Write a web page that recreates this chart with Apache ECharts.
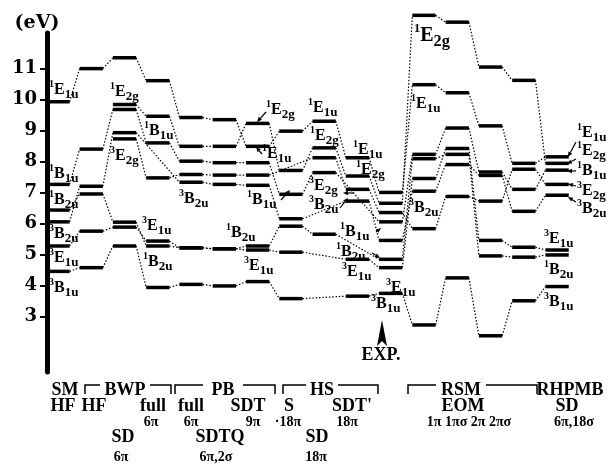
<!DOCTYPE html>
<html><head><meta charset="utf-8">
<script src="https://cdn.jsdelivr.net/npm/echarts@6/dist/echarts.min.js"></script>
<style>html,body{margin:0;padding:0;background:#fff}#c{width:612px;height:475px}</style>
</head><body><div id="c"></div>
<script>
// columns (methods), left to right
const methods = ['SM HF','BWP HF','BWP SD 6π','BWP full 6π','PB full 6π','PB SDTQ 6π,2σ','PB SDT 9π','HS S 18π','HS SD 18π',"HS SDT' 18π",'EXP','RSM EOM 1π','RSM EOM 1πσ','RSM EOM 2π','RSM EOM 2πσ','RHPMB SD 6π,18σ'];
// excitation energies (eV) per state, one value per column (null = not given)
const s1E1u = [9.93, 11.0, 11.35, 10.61, 9.42, 9.35, 8.49, 8.98, 9.3, 8.12, 7.0, 10.48, 10.22, 9.15, 7.94, 8.15];
const s1E2g = [null, null, 9.84, 9.46, 8.49, 8.49, 9.23, 7.71, 8.44, 7.53, 6.65, 12.72, 12.5, 11.05, 10.62, 7.94];
const s1B1u = [7.26, 8.4, 9.68, 8.6, 8.01, 7.96, 7.96, 6.94, 7.64, null, 6.05, 8.23, 9.08, 7.66, 7.1, 7.72];
const s3E2g = [null, null, 8.73, 7.47, 7.58, 7.56, 7.56, null, 8.12, 7.1, 6.35, 5.83, 6.87, 6.72, 7.75, 7.26];
const s3B2u = [6.05, 7.2, 8.93, null, 7.33, 7.26, 7.23, 6.15, null, 6.72, 5.45, 7.04, 7.9, 7.55, 6.39, 6.91];
const s1B2u = [6.43, 6.95, 6.04, 5.27, 5.21, 5.18, 5.27, 5.91, 5.65, null, 4.84, 8.09, 8.23, 4.95, 4.91, 4.98];
const s3E1u = [5.27, 5.75, 5.88, 5.43, 5.21, 5.18, 5.14, 5.07, null, 4.84, 4.57, 7.45, 8.42, 5.45, 5.23, 5.14];
const s3B1u = [4.45, 4.57, 5.27, 3.93, 4.03, 3.98, 4.12, 3.57, null, 3.65, 3.74, 2.72, 4.24, 2.37, 3.5, 3.96];
const yTicks = [3, 4, 5, 6, 7, 8, 9, 10, 11];

const states = [s1E1u, s1E2g, s1B1u, s3E2g, s3B2u, s1B2u, s3E1u, s3B1u];
const HW = 0.35; // half width of a level bar (column units)

const levelData = [];
const linkData = [];
states.forEach(arr => {
  let prev = null;
  arr.forEach((v, c) => {
    if (v == null) return;
    levelData.push([c, v]);
    if (prev) linkData.push([prev[0], prev[1], c, v]);
    prev = [c, v];
  });
});

const chart = echarts.init(document.getElementById('c'), null, {renderer: 'canvas'});
const SERIF = '"Liberation Serif", "DejaVu Serif", serif';
function richLab(k) {
  return {
    s: {fontSize: 10 * k, fontFamily: SERIF, fontWeight: 'bold', verticalAlign: 'top', lineHeight: 22 * k, color: '#000'},
    m: {fontSize: 16 * k, fontFamily: SERIF, fontWeight: 'bold', verticalAlign: 'middle', lineHeight: 22 * k, color: '#000'},
    b: {fontSize: 13 * k, fontFamily: SERIF, fontWeight: 'bold', verticalAlign: 'bottom', lineHeight: 22 * k, color: '#000'}
  };
}
function st(name) { // '1E1u' -> rich
  return '{s|' + name[0] + '}{m|' + name[1] + '}{b|' + name.slice(2) + '}';
}
// state labels: [text, left px, center y px, scale]
const stateLabels = [
  ['1E1u', 49, 90], ['1B1u', 49, 174], ['1B2u', 49, 200], ['3B2u', 49, 234], ['3E1u', 49, 258], ['3B1u', 49, 288],
  ['1E2g', 110, 92], ['3E2g', 110, 156], ['1B1u', 144, 131], ['3E1u', 142, 226], ['1B2u', 143, 262],
  ['3B2u', 179, 199], ['1E2g', 266, 110], ['1E1u', 262, 154], ['1B1u', 247, 200], ['1B2u', 226, 233], ['3E1u', 244, 266],
  ['1E1u', 308, 108], ['1E2g', 310, 136], ['3E2g', 309, 186], ['3B2u', 309, 205],
  ['1E1u', 353, 150], ['1E2g', 356, 170], ['1B1u', 340, 232], ['1B2u', 336, 252], ['3E1u', 342, 272],
  ['3E1u', 386, 288], ['3B1u', 371, 304],
  ['1E2g', 414, 36, 1.25], ['1E1u', 411, 104], ['3B2u', 409, 208],
  ['1E1u', 577, 133], ['1E2g', 577, 151], ['1B1u', 577, 171], ['3E2g', 577, 191], ['3B2u', 577, 209],
  ['3E1u', 544, 239], ['1B2u', 544, 270], ['3B1u', 544, 302]
];
const arrows = [
  [266, 112, 257, 122], [262, 154, 256, 147], [281, 200, 290, 190], [354, 193, 343, 193], [340, 208, 348, 198],
  [376, 232, 381, 228], [372, 253, 380, 258],
  [576, 142, 568, 157], [576, 159, 567, 164], [576, 171, 567, 171], [576, 186, 568, 184], [576, 202, 568, 197]
];
// bottom method labels: [text, center x, center y, size]
const methodText = [
  ['SM', 65, 390, 18], ['BWP', 125, 390, 18], ['PB', 223, 390, 18], ['HS', 322, 390, 18], ['RSM', 461, 390, 18], ['RHPMB', 570, 390, 18],
  ['HF', 63, 406, 18], ['HF', 94, 406, 18], ['full', 153, 406, 18], ['full', 191, 406, 18], ['SDT', 248, 406, 18], ['S', 289, 406, 18], ["SDT'", 352, 406, 18], ['EOM', 463, 406, 18], ['SD', 567, 406, 18],
  ['6π', 151, 422, 14], ['6π', 191, 422, 14], ['9π', 253, 422, 14], ['·18π', 288, 422, 14], ['18π', 347, 422, 14], ['1π 1πσ 2π 2πσ', 469, 422, 14], ['6π,18σ', 574, 422, 14],
  ['SD', 123, 437, 18], ['SDTQ', 220, 437, 18], ['SD', 317, 437, 18],
  ['6π', 121, 457, 14], ['6π,2σ', 216, 457, 14], ['18π', 316, 457, 14],
  ['EXP.', 381, 355, 18]
];
const brackets = [[85, 171, 100, 150], [175, 275, 203, 243], [283, 378, 306, 338], [408, 537, 436, 486]];

const graphic = [];
brackets.forEach(b => {
  graphic.push({type: 'polyline', shape: {points: [[b[0], 394], [b[0], 385], [b[2], 385]]}, style: {stroke: '#000', lineWidth: 1.5, fill: null}});
  graphic.push({type: 'polyline', shape: {points: [[b[3], 385], [b[1], 385], [b[1], 394]]}, style: {stroke: '#000', lineWidth: 1.5, fill: null}});
});
methodText.forEach(t => {
  graphic.push({type: 'text', x: t[1], y: t[2], style: {text: t[0], font: 'bold ' + t[3] + 'px ' + SERIF, fill: '#000', align: 'center', verticalAlign: 'middle'}});
});
stateLabels.forEach(t => {
  graphic.push({type: 'text', x: t[1], y: t[2], style: {text: st(t[0]), rich: richLab(t[3] || 1), fill: '#000', align: 'left', verticalAlign: 'middle'}});
});
arrows.forEach(a => {
  const ang = Math.atan2(a[3] - a[1], a[2] - a[0]);
  const L = 5, W = 2.2;
  const bx = a[2] - L * Math.cos(ang), by = a[3] - L * Math.sin(ang);
  graphic.push({type: 'line', shape: {x1: a[0], y1: a[1], x2: bx, y2: by}, style: {stroke: '#000', lineWidth: 1.2}});
  graphic.push({type: 'polygon', shape: {points: [[a[2], a[3]], [bx - W * Math.sin(ang), by + W * Math.cos(ang)], [bx + W * Math.sin(ang), by - W * Math.cos(ang)]]}, style: {fill: '#000'}});
});
// EXP arrow head
graphic.push({type: 'polygon', shape: {points: [[382, 320], [377, 346], [382, 341], [387, 346]]}, style: {fill: '#000'}});
graphic.push({type: 'text', x: 37, y: 23, style: {text: '(eV)', font: 'bold 19px "DejaVu Serif", serif', fill: '#000', align: 'center', verticalAlign: 'middle'}});

chart.setOption({
  animation: false,
  backgroundColor: '#fff',
  grid: {left: 47, right: 0, top: 33, bottom: 103, containLabel: false},
  xAxis: {type: 'value', min: -0.33, max: 16.65, show: false},
  yAxis: {
    type: 'value', min: 1.2, max: 12.15,
    axisLine: {show: true, onZero: false, lineStyle: {color: '#000', width: 5}},
    axisTick: {show: true, length: 7, inside: false, customValues: yTicks, lineStyle: {color: '#000', width: 2}},
    axisLabel: {show: true, customValues: yTicks, margin: 10, color: '#000', fontFamily: '"DejaVu Serif", serif', fontWeight: 'bold', fontSize: 18},
    splitLine: {show: false}
  },
  series: [
    {
      type: 'custom', name: 'links', z: 2, clip: false,
      data: linkData,
      renderItem: (params, api) => {
        const p1 = api.coord([api.value(0) + HW, api.value(1)]);
        const p2 = api.coord([api.value(2) - HW, api.value(3)]);
        return {type: 'line', shape: {x1: p1[0], y1: p1[1], x2: p2[0], y2: p2[1]}, style: {stroke: '#000', lineWidth: 1.2, lineDash: [1.5, 1.8]}};
      }
    },
    {
      type: 'custom', name: 'levels', z: 3, clip: false,
      data: levelData,
      renderItem: (params, api) => {
        const p1 = api.coord([api.value(0) - HW, api.value(1)]);
        const p2 = api.coord([api.value(0) + HW, api.value(1)]);
        return {type: 'line', shape: {x1: p1[0], y1: p1[1], x2: p2[0], y2: p2[1]}, style: {stroke: '#000', lineWidth: 3.5}};
      }
    }
  ],
  graphic: graphic
});
</script></body></html>
